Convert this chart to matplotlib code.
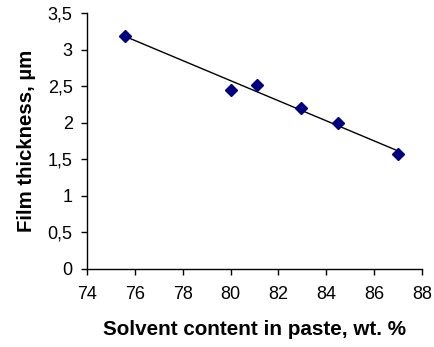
import numpy as np
import matplotlib
matplotlib.use("Agg")
import matplotlib.pyplot as plt
from matplotlib.ticker import FuncFormatter, MultipleLocator

plt.rcParams['font.family'] = ['Liberation Sans', 'DejaVu Sans']

solvent = [75.6, 80.0, 81.1, 82.95, 84.5, 87.0]
thickness = [3.19, 2.44, 2.52, 2.20, 1.99, 1.57]

fig = plt.figure(figsize=(4.34, 3.47), dpi=100)
ax = fig.add_axes([0.201, 0.2256, 0.771, 0.737])

# linear trendline
k, b = np.polyfit(solvent, thickness, 1)
xs = np.array([min(solvent), max(solvent)])
ax.plot(xs, k * xs + b, color="black", lw=1.0, zorder=2)
ax.plot(solvent, thickness, linestyle="none", marker="D", markersize=6,
        color="#000080", zorder=3)

ax.set_xlim(74, 88)
ax.set_ylim(0, 3.5)
ax.xaxis.set_major_locator(MultipleLocator(2))
ax.yaxis.set_major_locator(MultipleLocator(0.5))
comma = FuncFormatter(lambda v, p: ("%g" % v).replace(".", ","))
ax.yaxis.set_major_formatter(comma)

for s in ["top", "right"]:
    ax.spines[s].set_visible(False)
for s in ["left", "bottom"]:
    ax.spines[s].set_linewidth(1.0)
ax.tick_params(direction="out", length=4.5, width=1.0, labelsize=13, pad=6)
ax.tick_params(axis="x", pad=8)

ax.set_xlabel("Solvent content in paste, wt. %", fontsize=14.9, fontweight="bold", labelpad=12)
ax.set_ylabel("Film thickness, µm", fontsize=14.7, fontweight="bold", labelpad=8.5)

fig.savefig("out.png", dpi=100)
